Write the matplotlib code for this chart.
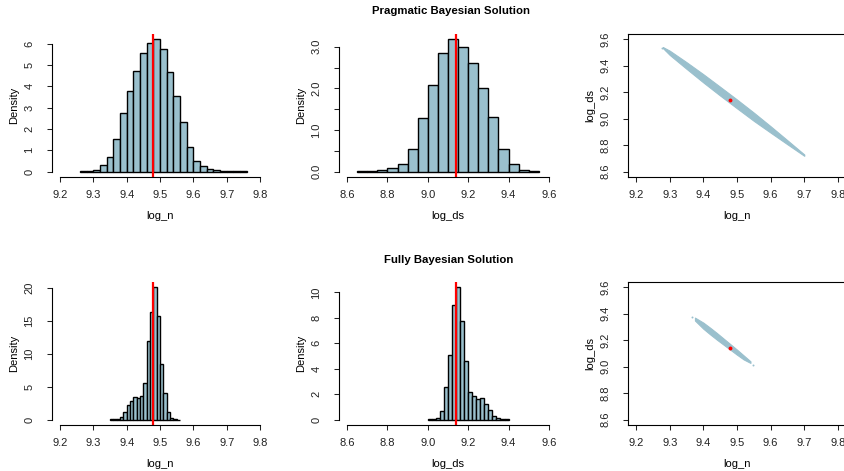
import numpy as np
import matplotlib.pyplot as plt

plt.rcParams['font.family'] = ['Liberation Sans', 'DejaVu Sans']

fill_col = '#9AC0CD'
n_true = 9.48
ds_true = 9.14

# pragmatic: log_n histogram (bin width 0.02)
prag_n_edges = np.round(np.arange(9.26, 9.7601, 0.02), 2)
prag_n_dens = [0.01, 0.02, 0.10, 0.30, 0.68, 1.52, 2.75, 3.78, 4.73, 5.58, 6.02, 6.20,
               5.73, 4.67, 3.56, 2.33, 1.16, 0.50, 0.25, 0.14, 0.08, 0.04, 0.02, 0.01, 0.01]

# pragmatic: log_ds histogram (bin width 0.05)
prag_ds_edges = np.round(np.arange(8.65, 9.5501, 0.05), 2)
prag_ds_dens = [0.005, 0.01, 0.03, 0.08, 0.19, 0.55, 1.30, 2.08, 2.85, 3.18, 3.00, 2.60,
                2.00, 1.32, 0.54, 0.18, 0.05, 0.015]

# fully bayesian: log_n histogram (bin width 0.01)
full_n_edges = np.round(np.arange(9.35, 9.5601, 0.01), 2)
full_n_dens = [0.05, 0.10, 0.15, 0.40, 1.10, 2.30, 2.90, 3.40, 3.30, 3.60, 5.50, 12.0,
               16.3, 20.1, 15.7, 8.40, 4.10, 1.20, 0.20, 0.05, 0.02]

# fully bayesian: log_ds histogram (bin width 0.02)
full_ds_edges = np.round(np.arange(9.00, 9.4001, 0.02), 2)
full_ds_dens = [0.03, 0.05, 0.12, 0.68, 2.60, 5.10, 9.00, 10.4, 7.78, 4.60, 2.15, 1.88,
                1.62, 1.68, 1.23, 0.73, 0.31, 0.13, 0.06, 0.02]

# joint posterior clouds, outline of the band (log_n vs log_ds)
prag_band_x = [9.28, 9.30, 9.35, 9.40, 9.45, 9.50, 9.55, 9.60, 9.65, 9.70]
prag_band_hi = [9.541, 9.514, 9.427, 9.336, 9.241, 9.145, 9.046, 8.943, 8.837, 8.730]
prag_band_lo = [9.533, 9.482, 9.377, 9.274, 9.175, 9.079, 8.984, 8.895, 8.807, 8.720]
prag_stray_x = [9.277, 9.290]
prag_stray_y = [9.537, 9.522]

full_band_x = [9.375, 9.40, 9.42, 9.44, 9.46, 9.48, 9.50, 9.52, 9.54]
full_band_hi = [9.371, 9.333, 9.295, 9.255, 9.213, 9.171, 9.129, 9.085, 9.041]
full_band_lo = [9.349, 9.287, 9.245, 9.205, 9.167, 9.129, 9.091, 9.055, 9.029]
full_stray_x = [9.367, 9.549]
full_stray_y = [9.378, 9.013]

W, H = 845, 471
fig = plt.figure(figsize=(W / 100, H / 100), dpi=100)

cols = [(52, 268), (339, 557), (628, 846)]
rows = [(34, 177), (282, 425)]


def make_ax(r, c):
    x0, x1 = cols[c]
    y0, y1 = rows[r]
    return fig.add_axes([x0 / W, 1 - y1 / H, (x1 - x0) / W, (y1 - y0) / H])


def style(ax, xticks, yticks, ylabels, xlabel, ylabel, box=False):
    ax.set_xticks(xticks)
    ax.set_xticklabels([f'{t:.1f}' for t in xticks])
    ax.set_yticks(yticks)
    ax.set_yticklabels(ylabels, rotation=90, va='center')
    ax.tick_params(direction='out', length=3.6, width=0.75, labelsize=8,
                   colors='#222222')
    ax.tick_params(axis='x', pad=5.5)
    ax.tick_params(axis='y', pad=9)
    ax.set_xlabel(xlabel, fontsize=8, labelpad=8.5)
    ax.set_ylabel(ylabel, fontsize=8, labelpad=4)
    for s in ax.spines.values():
        s.set_linewidth(0.8)
    if not box:
        ax.spines['top'].set_visible(False)
        ax.spines['right'].set_visible(False)
        ax.spines['bottom'].set_bounds(xticks[0], xticks[-1])
        ax.spines['left'].set_bounds(yticks[0], yticks[-1])


def hist(ax, edges, dens, xlo, xhi, vline):
    edges = np.asarray(edges)
    ax.bar(edges, dens, width=edges[1] - edges[0], align='edge', color=fill_col,
           edgecolor='black', linewidth=1.0)
    r = xhi - xlo
    ax.set_xlim(xlo - 0.04 * r, xhi + 0.04 * r)
    top = max(dens)
    ax.set_ylim(-0.04 * top, top * 1.04)
    ax.axvline(vline, color='red', lw=1.6)


def cloud(ax, bx, hi, lo, sx, sy):
    ax.fill_between(bx, lo, hi, color=fill_col, lw=0.8, edgecolor=fill_col)
    ax.scatter(sx, sy, s=2, color=fill_col, lw=0)
    ax.plot([n_true], [ds_true], 'o', color='red', ms=2.8, mew=0)
    ax.set_xlim(9.176, 9.824)
    ax.set_ylim(8.56, 9.64)


n_ticks = [9.2, 9.3, 9.4, 9.5, 9.6, 9.7, 9.8]
ds_ticks = [8.6, 8.8, 9.0, 9.2, 9.4, 9.6]

ax = make_ax(0, 0)
hist(ax, prag_n_edges[:-1], prag_n_dens, 9.2, 9.8, n_true)
style(ax, n_ticks, [0, 1, 2, 3, 4, 5, 6], ['0', '1', '2', '3', '4', '5', '6'], 'log_n', 'Density')

ax = make_ax(0, 1)
hist(ax, prag_ds_edges[:-1], prag_ds_dens, 8.6, 9.6, ds_true)
style(ax, ds_ticks, [0, 0.5, 1, 1.5, 2, 2.5, 3], ['0.0', '', '1.0', '', '2.0', '', '3.0'], 'log_ds', 'Density')

ax = make_ax(0, 2)
cloud(ax, prag_band_x, prag_band_hi, prag_band_lo, prag_stray_x, prag_stray_y)
style(ax, n_ticks, ds_ticks, [f'{t:.1f}' for t in ds_ticks], 'log_n', 'log_ds', box=True)

ax = make_ax(1, 0)
hist(ax, full_n_edges[:-1], full_n_dens, 9.2, 9.8, n_true)
style(ax, n_ticks, [0, 5, 10, 15, 20], ['0', '5', '10', '15', '20'], 'log_n', 'Density')

ax = make_ax(1, 1)
hist(ax, full_ds_edges[:-1], full_ds_dens, 8.6, 9.6, ds_true)
style(ax, ds_ticks, [0, 2, 4, 6, 8, 10], ['0', '2', '4', '6', '8', '10'], 'log_ds', 'Density')

ax = make_ax(1, 2)
cloud(ax, full_band_x, full_band_hi, full_band_lo, full_stray_x, full_stray_y)
style(ax, n_ticks, ds_ticks, [f'{t:.1f}' for t in ds_ticks], 'log_n', 'log_ds', box=True)

fig.text(451 / W, 1 - 11 / H, 'Pragmatic Bayesian Solution', ha='center', va='center',
         fontsize=8.2, fontweight='bold')
fig.text(449 / W, 1 - 260 / H, 'Fully Bayesian Solution', ha='center', va='center',
         fontsize=8.2, fontweight='bold')

fig.savefig('out.png', dpi=100)
